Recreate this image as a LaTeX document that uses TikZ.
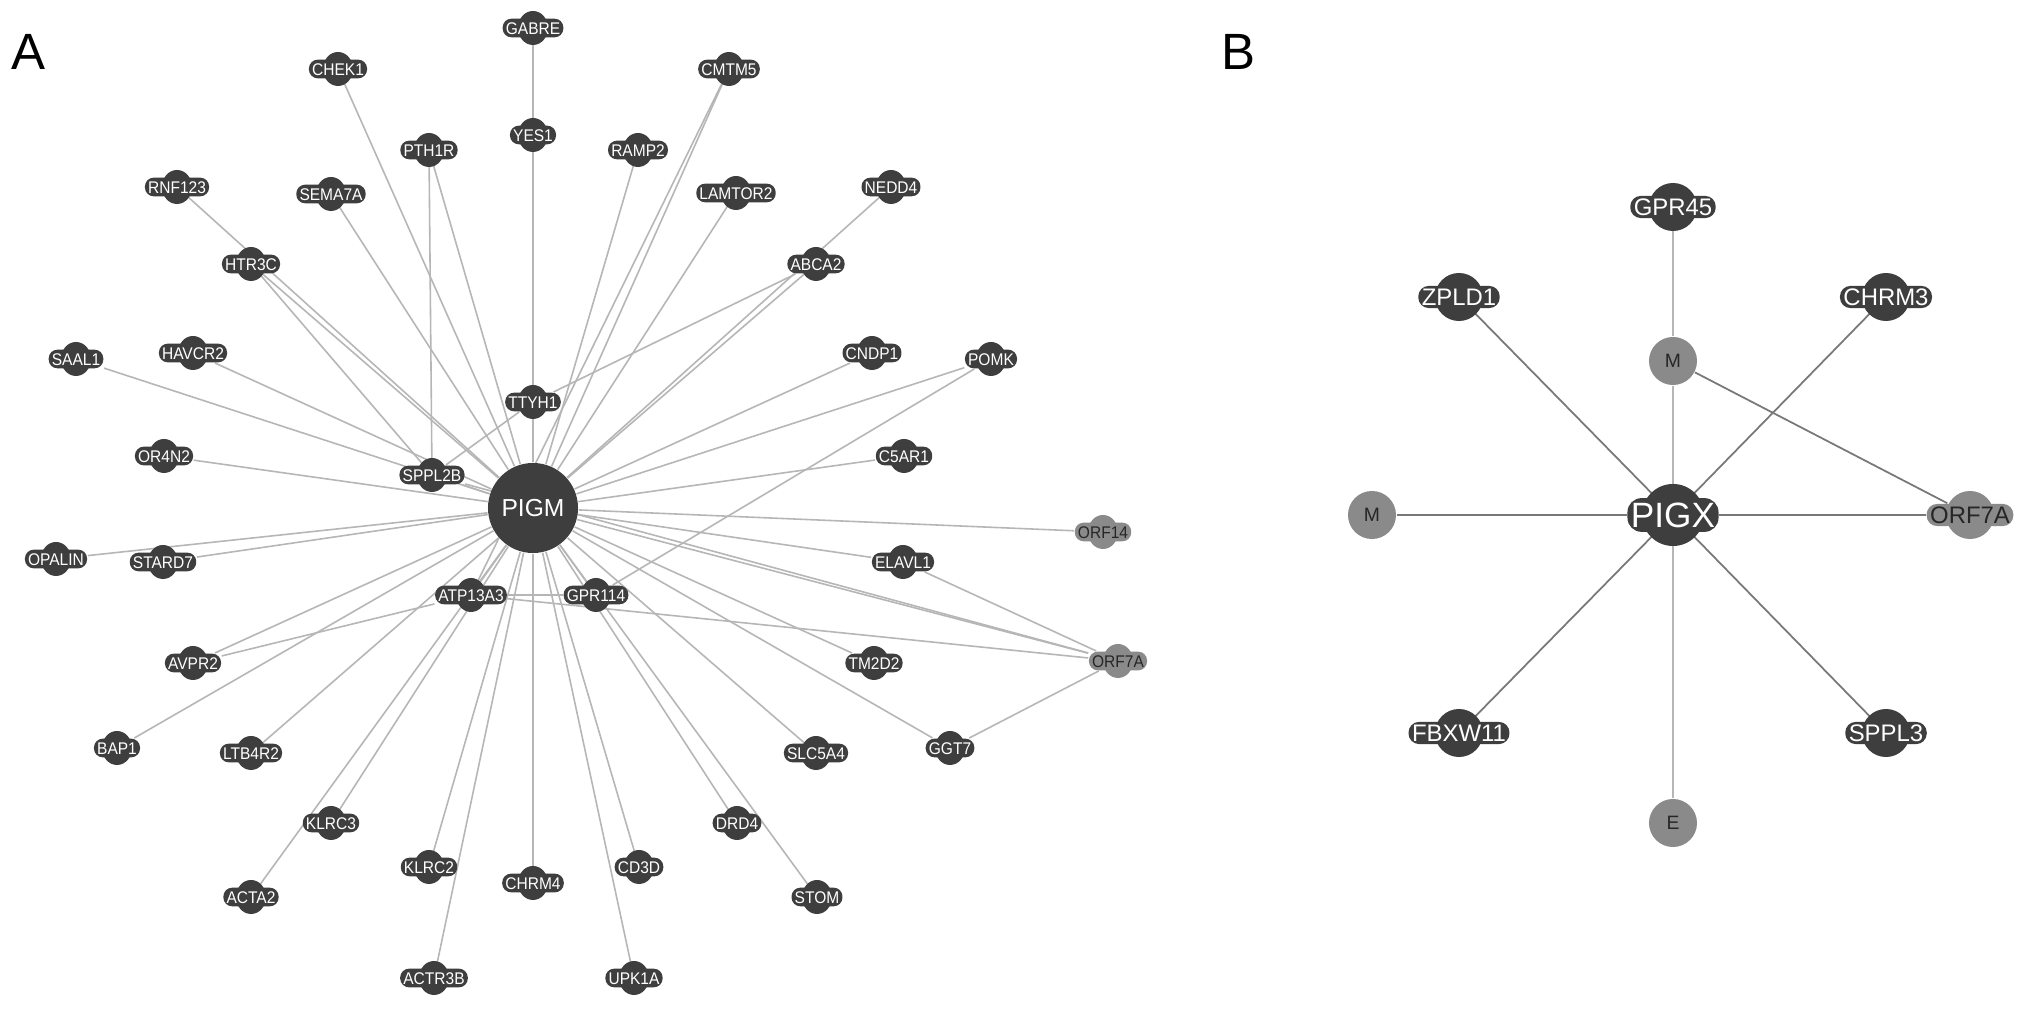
\documentclass[tikz,border=0pt]{standalone}
\usepackage{fontspec}
\setmainfont{Liberation Sans}
\newfontfamily\genefont[FakeStretch=0.92]{Liberation Sans}
\usepackage{xcolor}
\usepackage{tikz}
\usetikzlibrary{backgrounds}
\definecolor{genedark}{RGB}{62, 62, 62}
\definecolor{virusgray}{RGB}{138, 138, 138}
\definecolor{linkgray}{RGB}{182, 182, 182}
\definecolor{linkdark}{RGB}{120, 120, 120}

% blob behind a label, then the named label node
\newcommand{\gene}[4]{%
  \path[#1blob] (#3) ellipse [];
  \node[#1] (#2) at (#3) {#4};
}

\begin{document}
\begin{tikzpicture}[
    x=0.01cm, y=-0.01cm,
    gene/.style={
        rectangle, fill=genedark, rounded corners=2.5pt, text=white,
        font=\genefont\fontsize{4.8}{5}\selectfont,
        inner xsep=0.9pt, inner ysep=0.9pt, text height=3.5pt, text depth=0pt
    },
    geneblob/.style={fill=genedark, x radius=0.15cm, y radius=0.17cm},
    virus/.style={gene, fill=virusgray, text=black!85},
    virusblob/.style={geneblob, fill=virusgray},
    hub/.style={
        circle, fill=genedark, text=white, minimum size=0.9cm, inner sep=0pt,
        font=\fontsize{7}{8}\selectfont
    },
    geneB/.style={
        gene, rounded corners=3pt, font=\fontsize{6.8}{8}\selectfont,
        inner xsep=1pt, inner ysep=0.7pt, text height=4.9pt
    },
    geneBblob/.style={fill=genedark, x radius=0.24cm, y radius=0.24cm},
    orfB/.style={geneB, fill=virusgray, text=black!85},
    orfBblob/.style={geneBblob, fill=virusgray},
    hubB/.style={
        gene, rounded corners=4pt, font=\fontsize{10}{11}\selectfont,
        inner xsep=1pt, inner ysep=1.2pt, text height=7.2pt
    },
    hubBblob/.style={fill=genedark, x radius=0.31cm, y radius=0.31cm},
    virusB/.style={
        circle, fill=virusgray, text=black!85, minimum size=0.48cm, inner sep=0pt,
        font=\fontsize{5.5}{6}\selectfont
    },
    panel/.style={font=\fontsize{14.5}{16}\selectfont},
    link/.style={draw=linkgray, line width=0.45pt},
    linkB/.style={draw=linkgray, line width=0.4pt},
    linkBd/.style={draw=linkdark, line width=0.5pt}
]

\useasboundingbox (0,0) rectangle (2032,1016);
\begin{scope}[on background layer]
\fill[white] (0,0) rectangle (2032,1016);
\end{scope}

% Panel labels
\node[panel] (labA) at (29,52) {A};
\node[panel] (labB) at (1238,52) {B};

% Panel A: hub
\node[hub] (pigm) at (533,508) {PIGM};

% Panel A: interactors
\gene{gene}{gabre}{533,28}{GABRE}
\gene{gene}{chek1}{338,69}{CHEK1}
\gene{gene}{cmtm5}{729,69}{CMTM5}
\gene{gene}{yes1}{533,135}{YES1}
\gene{gene}{pth1r}{429,150}{PTH1R}
\gene{gene}{ramp2}{638,150}{RAMP2}
\gene{gene}{rnf123}{177,187}{RNF123}
\gene{gene}{sema7a}{331,194}{SEMA7A}
\gene{gene}{lamtor2}{736,193}{LAMTOR2}
\gene{gene}{nedd4}{891,187}{NEDD4}
\gene{gene}{htr3c}{251,264}{HTR3C}
\gene{gene}{abca2}{816,264}{ABCA2}
\gene{gene}{saal1}{76,359}{SAAL1}
\gene{gene}{havcr2}{193,353}{HAVCR2}
\gene{gene}{cndp1}{872,353}{CNDP1}
\gene{gene}{pomk}{991,359}{POMK}
\gene{gene}{ttyh1}{533,402}{TTYH1}
\gene{gene}{or4n2}{164,456}{OR4N2}
\gene{gene}{sppl2b}{432,475}{SPPL2B}
\gene{gene}{c5ar1}{904,456}{C5AR1}
\gene{gene}{opalin}{56,559}{OPALIN}
\gene{gene}{stard7}{163,562}{STARD7}
\gene{gene}{elavl1}{903,562}{ELAVL1}
\gene{gene}{atp13a3}{471,595}{ATP13A3}
\gene{gene}{gpr114}{596,595}{GPR114}
\gene{gene}{avpr2}{193,663}{AVPR2}
\gene{gene}{tm2d2}{874,663}{TM2D2}
\gene{gene}{bap1}{117,748}{BAP1}
\gene{gene}{ltb4r2}{251,753}{LTB4R2}
\gene{gene}{slc5a4}{816,753}{SLC5A4}
\gene{gene}{ggt7}{950,748}{GGT7}
\gene{gene}{klrc3}{331,823}{KLRC3}
\gene{gene}{drd4}{737,823}{DRD4}
\gene{gene}{klrc2}{429,867}{KLRC2}
\gene{gene}{chrm4}{533,883}{CHRM4}
\gene{gene}{cd3d}{639,867}{CD3D}
\gene{gene}{acta2}{251,897}{ACTA2}
\gene{gene}{stom}{817,897}{STOM}
\gene{gene}{actr3b}{434,978}{ACTR3B}
\gene{gene}{upk1a}{634,978}{UPK1A}

% Panel A: viral proteins
\gene{virus}{orf14}{1103,532}{ORF14}
\gene{virus}{orf7a}{1118,661}{ORF7A}

% Panel B
\gene{hubB}{pigx}{1673,515}{PIGX}
\gene{geneB}{gpr45}{1673,207}{GPR45}
\gene{geneB}{zpld1}{1459,297}{ZPLD1}
\gene{geneB}{chrm3}{1886,297}{CHRM3}
\gene{geneB}{fbxw11}{1459,733}{FBXW11}
\gene{geneB}{sppl3}{1886,733}{SPPL3}
\gene{orfB}{orf7b}{1970,515}{ORF7A}
\node[virusB] (mtop) at (1673,361) {M};
\node[virusB, minimum width=0.44cm] (mleft) at (1372,515) {M};
\node[virusB] (enode) at (1673,823) {E};

% Links
\begin{scope}[on background layer]
\draw[link] (pigm) -- (gabre);
\draw[link] (pigm) -- (chek1);
\draw[link] (pigm) -- (cmtm5);
\draw[link] (pigm) -- (yes1);
\draw[link] (pigm) -- (pth1r);
\draw[link] (pigm) -- (ramp2);
\draw[link] (pigm) -- (rnf123);
\draw[link] (pigm) -- (sema7a);
\draw[link] (pigm) -- (lamtor2);
\draw[link] (pigm) -- (nedd4);
\draw[link] (pigm) -- (htr3c);
\draw[link] (pigm) -- (abca2);
\draw[link] (pigm) -- (saal1);
\draw[link] (pigm) -- (havcr2);
\draw[link] (pigm) -- (cndp1);
\draw[link] (pigm) -- (pomk);
\draw[link] (pigm) -- (ttyh1);
\draw[link] (pigm) -- (or4n2);
\draw[link] (pigm) -- (sppl2b);
\draw[link] (pigm) -- (c5ar1);
\draw[link] (pigm) -- (orf14);
\draw[link] (pigm) -- (opalin);
\draw[link] (pigm) -- (stard7);
\draw[link] (pigm) -- (elavl1);
\draw[link] (pigm) -- (atp13a3);
\draw[link] (pigm) -- (gpr114);
\draw[link] (pigm) -- (avpr2);
\draw[link] (pigm) -- (tm2d2);
\draw[link] (pigm) -- (orf7a);
\draw[link] (pigm) -- (bap1);
\draw[link] (pigm) -- (ltb4r2);
\draw[link] (pigm) -- (slc5a4);
\draw[link] (pigm) -- (ggt7);
\draw[link] (pigm) -- (klrc3);
\draw[link] (pigm) -- (drd4);
\draw[link] (pigm) -- (klrc2);
\draw[link] (pigm) -- (chrm4);
\draw[link] (pigm) -- (cd3d);
\draw[link] (pigm) -- (acta2);
\draw[link] (pigm) -- (stom);
\draw[link] (pigm) -- (actr3b);
\draw[link] (pigm) -- (upk1a);
\draw[link] (pth1r) -- (sppl2b);
\draw[link] (htr3c) -- (sppl2b);
\draw[link] (sppl2b) -- (ttyh1);
\draw[link] (ttyh1) -- (abca2);
\draw[link] (cmtm5) -- (atp13a3);
\draw[link] (pomk) -- (gpr114);
\draw[link] (avpr2) -- (atp13a3);
\draw[link] (atp13a3) -- (gpr114);
\draw[link] (atp13a3) -- (orf7a);
\draw[link] (sppl2b) -- (orf7a);
\draw[link] (elavl1) -- (orf7a);
\draw[link] (ggt7) -- (orf7a);
% Panel B links
\draw[linkB] (gpr45) -- (mtop);
\draw[linkB] (mtop) -- (pigx);
\draw[linkB] (pigx) -- (enode);
\draw[linkBd] (mleft) -- (pigx);
\draw[linkBd] (pigx) -- (orf7b);
\draw[linkBd] (zpld1) -- (pigx);
\draw[linkBd] (chrm3) -- (pigx);
\draw[linkBd] (fbxw11) -- (pigx);
\draw[linkBd] (sppl3) -- (pigx);
\draw[linkBd] (mtop) -- (orf7b);
\end{scope}

\end{tikzpicture}
\end{document}
